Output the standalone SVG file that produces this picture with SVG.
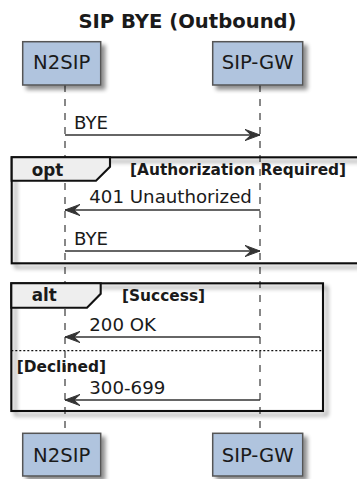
<svg xmlns="http://www.w3.org/2000/svg" width="357" height="479" viewBox="0 0 357 479">
<style>
text{font-family:"DejaVu Sans","Liberation Sans",sans-serif;fill:#1a1a1a}
.title{font-size:19.6px;font-weight:bold}
.pname{font-size:19.6px}
.msg{font-size:18.2px}
.glabel{font-size:16.8px;font-weight:bold}
.guard{font-size:15.4px;font-weight:bold}
.pbox{fill:#B0C4DE;stroke:#555;stroke-width:1.5}
.life{stroke:#555;stroke-width:1.4;stroke-dasharray:7,7;fill:none}
.arrow{stroke:#333;stroke-width:1.4;fill:none;marker-end:url(#ah)}
.frame{fill:none;stroke:#111;stroke-width:2.1}
.tab{fill:#EEEEEE;stroke:#111;stroke-width:2.1}
.sep{stroke:#111;stroke-width:1.2;stroke-dasharray:2,2}
</style>
<defs>
<filter id="sh" x="-20%" y="-20%" width="150%" height="150%">
<feGaussianBlur in="SourceAlpha" stdDeviation="2"/>
<feOffset dx="4" dy="4" result="b"/>
<feComponentTransfer><feFuncA type="linear" slope="0.45"/></feComponentTransfer>
<feMerge><feMergeNode/><feMergeNode in="SourceGraphic"/></feMerge>
</filter>
<marker id="ah" markerUnits="userSpaceOnUse" markerWidth="20" markerHeight="14" viewBox="-16 -7 20 14" refX="0" refY="0" orient="auto">
<path d="M0,0 L-15,-5.6 L-9,0 L-15,5.6 Z" fill="#333" stroke="#333" stroke-width="1"/>
</marker>
</defs>

<text class="title" x="187.5" y="27.7" text-anchor="middle">SIP BYE (Outbound)</text>

<g id="lifelines">
<line class="life" x1="65" y1="85" x2="65" y2="433"/>
<line class="life" x1="260" y1="85" x2="260" y2="433"/>
</g>

<g id="N2SIP">
<rect class="pbox" x="22.7" y="41.7" width="78" height="43.3" filter="url(#sh)"/>
<text class="pname" x="61.7" y="69" text-anchor="middle">N2SIP</text>
<rect class="pbox" x="22.7" y="433.3" width="78" height="42.7" filter="url(#sh)"/>
<text class="pname" x="61.7" y="461.5" text-anchor="middle">N2SIP</text>
</g>

<g id="SIP-GW">
<rect class="pbox" x="212.7" y="41.7" width="90" height="43.3" filter="url(#sh)"/>
<text class="pname" x="257.7" y="69" text-anchor="middle">SIP-GW</text>
<rect class="pbox" x="212.7" y="433.3" width="90" height="42.7" filter="url(#sh)"/>
<text class="pname" x="257.7" y="461.5" text-anchor="middle">SIP-GW</text>
</g>

<g id="opt-group">
<rect class="frame" x="11.7" y="157.3" width="360" height="106" filter="url(#sh)"/>
<path class="tab" d="M11.7,157.3 L110,157.3 L110,166.7 L96,180.7 L11.7,180.7 Z"/>
<text class="glabel" x="31.7" y="175.5">opt</text>
<text class="guard" x="130" y="175">[Authorization Required]</text>
</g>

<g id="alt-group">
<rect class="frame" x="11.3" y="283.3" width="311.7" height="127.7" filter="url(#sh)"/>
<path class="tab" d="M11.3,283.3 L100.7,283.3 L100.7,293.7 L87,307.7 L11.3,307.7 Z"/>
<text class="glabel" x="31.7" y="301.3">alt</text>
<text class="guard" x="122" y="300.5">[Success]</text>
<line class="sep" x1="11.3" y1="350.7" x2="323" y2="350.7"/>
<text class="guard" x="16.7" y="372">[Declined]</text>
</g>

<g id="connectors">
<line class="arrow" x1="65" y1="135" x2="260" y2="135"/>
<text class="msg" x="74" y="129.3">BYE</text>
<line class="arrow" x1="260" y1="210" x2="65" y2="210"/>
<text class="msg" x="89.3" y="203.3">401 Unauthorized</text>
<line class="arrow" x1="65" y1="251" x2="260" y2="251"/>
<text class="msg" x="74" y="245">BYE</text>
<line class="arrow" x1="260" y1="337" x2="65" y2="337"/>
<text class="msg" x="89.3" y="330.5">200 OK</text>
<line class="arrow" x1="260" y1="400" x2="65" y2="400"/>
<text class="msg" x="89.3" y="393.5">300-699</text>
</g>
</svg>
